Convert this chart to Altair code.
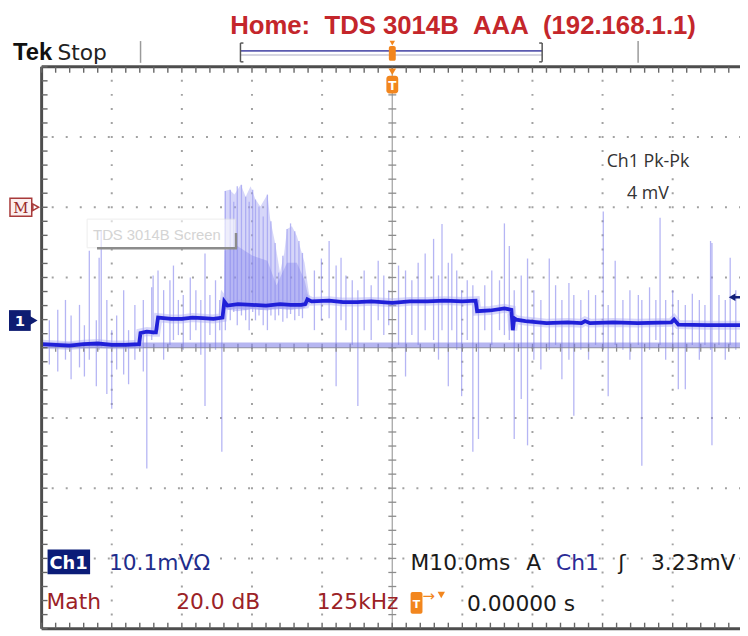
import altair as alt
import pandas as pd

# ---------------- data: time in ms (10 ms/div, trigger at 0), amplitude in divisions ----------------
trace_ms = [-50, -48, -46, -44, -42, -40, -38, -36.1, -35.9, -35.0, -34.0, -33.7, -33.4, -31.5, -30, -28.5, -27, -25.5, -24.2,
            -23.95, -23.5, -22, -20, -18, -16, -14.5, -13, -12.4, -12.1, -11.5, -9, -7, -5, -3, 0, 2.5, 5, 7.5, 10, 11.9,
            12.1, 14, 16, 17.0, 17.2, 17.4, 17.7, 19, 22, 25, 27.0, 27.5, 28.2, 31.5, 35, 39.8, 40.2, 40.8, 45, 49.6]
trace_div = [0.05, 0.04, 0.03, 0.05, 0.06, 0.04, 0.04, 0.05, 0.21, 0.23, 0.22, 0.22, 0.43, 0.41, 0.41, 0.43, 0.42, 0.41, 0.43,
             0.66, 0.60, 0.62, 0.61, 0.60, 0.62, 0.61, 0.61, 0.62, 0.69, 0.66, 0.67, 0.65, 0.65, 0.66, 0.64, 0.66, 0.66, 0.67, 0.66, 0.67,
             0.52, 0.53, 0.56, 0.54, 0.25, 0.42, 0.40, 0.38, 0.35, 0.36, 0.35, 0.38, 0.35, 0.36, 0.35, 0.36, 0.40, 0.33, 0.32, 0.32]

spike_ms = [-48.9, -47.7, -46.6, -45.8, -44.6, -43.9, -43.2, -42.2, -41.8, -41.5, -40.7, -40.0, -39.3, -38.3, -37.6, -36.7,
            -35.5, -35.0, -34.3, -34.1, -33.4, -32.6, -31.7, -31.2, -30.5, -29.8, -28.8, -28.0, -27.3, -26.7, -26.0, -25.2, -24.6, -24.3,
            -23.8, -23.1, -22.6, -22.1, -21.5, -20.9, -20.4, -19.9, -19.5, -19.0, -18.4, -17.8, -17.3, -16.7, -16.2, -15.6, -15.0, -14.5, -13.9, -13.3, -12.8,
            -11.1, -10.1, -9.0, -8.0, -7.3, -6.6, -5.7, -4.9, -4.0, -3.0, -2.0, -1.2, -0.5, 0.9, 1.9, 2.8, 3.7, 4.7, 5.9, 6.6, 7.1, 8.0, 8.5, 9.2, 9.9, 10.7, 11.5, 12.3,
            13.2, 14.2, 15.3, 16.0, 16.7, 17.4, 18.4, 19.3, 20.2, 21.2, 22.4, 23.3, 24.2, 25.2, 25.9, 26.9, 28.0, 29.0, 30.1, 30.8,
            31.8, 32.9, 33.9, 35.1, 35.6, 36.7, 37.6, 38.2, 39.0, 40.0, 40.8, 41.8, 42.8, 43.8, 44.6, 45.4, 45.6, 46.6, 47.5, 48.2, 49.0]
spike_top = [0.39, 0.54, 0.68, 0.46, 0.61, 0.32, 1.38, 0.39, 1.28, 1.66, 0.68, 0.25, 0.46, 0.82, 0.25, 0.61,
             0.68, 0.25, 0.86, 1.03, 1.10, 0.82, 0.96, 1.17, 0.68, 0.75, 1.00, 0.82, 0.68, 1.34, 0.75, 0.96, 0.68, 0.42,
             2.23, 2.25, 2.08, 2.30, 2.32, 2.15, 2.08, 2.25, 2.11, 2.01, 1.87, 2.18, 1.80, 1.49, 1.07, 1.31, 1.69, 1.77, 1.66, 1.52, 1.35,
             1.10, 1.27, 1.52, 1.17, 1.28, 1.03, 0.96, 0.82, 1.10, 0.89, 1.24, 1.03, 0.82, 1.17, 1.10, 0.96, 1.21, 1.34, 1.55, 1.03, 1.76, 1.21, 1.34, 1.10, 0.82, 0.96, 0.89, 0.68,
             0.89, 1.10, 0.96, 1.77, 1.45, 0.82, 1.03, 1.27, 0.82, 0.68, 1.27, 0.89, 0.68, 0.92, 0.75, 0.68, 0.82, 0.75, 1.94, 0.61,
             1.24, 0.68, 0.82, 0.75, 0.68, 0.86, 0.68, 1.85, 0.68, 0.82, 0.68, 0.61, 0.77, 0.68, 0.61, 1.52, 1.49, 0.75, 0.68, 1.28, 0.82]
spike_bot = [-0.24, -0.34, -0.17, -0.45, -0.28, -0.41, -0.17, -0.55, -0.03, 0.0, -0.66, -0.87, -0.31, -0.38, -0.52, -0.17,
             -0.34, -1.72, 0.11, 0.18, 0.25, -0.17, 0.04, 0.11, 0.18, -0.03, 0.11, 0.25, -0.10, -0.83, 0.18, -0.03, 0.25, -1.48,
             0.25, 0.39, 0.51, 0.32, 0.46, 0.39, 0.25, 0.51, 0.39, 0.46, 0.32, 0.25, 0.46, 0.39, 0.46, 0.37, 0.42, 0.48, 0.39, 0.45, 0.42,
             0.25, 0.39, 0.42, -0.55, 0.39, 0.25, 0.04, -0.83, 0.25, 0.11, 0.39, 0.18, 0.32, 0.04, -0.41, 0.18, 0.04, 0.25, 0.11, -0.17, 0.25, -0.55, 0.25, -0.03, -0.69, 0.11, -1.48, -1.30,
             0.25, 0.04, 0.25, 0.18, 0.11, -1.30, -0.73, -1.39, -0.17, -0.31, -0.03, 0.04, -0.45, -0.17, -0.97, -0.03, -0.17, 0.04, -0.03, -0.69,
             0.04, -0.03, -0.17, 0.04, -1.68, -0.03, 0.11, 0.04, -0.17, -0.03, -0.59, -0.59, 0.04, -0.17, 0.04, -0.03, -1.39, 0.04, -0.17, 0.04, -0.03]

burst_ms = [-24.0, -23.9, -23.2, -22.5, -21.6, -20.9, -20.2, -19.5, -18.8, -17.8, -17.4, -16.7, -16.0, -15.4, -15.0, -14.3, -13.6, -12.9, -12.5, -11.9, -11.6]
burst_top = [0.62, 2.23, 2.25, 2.18, 2.32, 2.15, 2.30, 2.11, 2.01, 2.18, 1.83, 1.49, 1.07, 1.35, 1.69, 1.73, 1.59, 1.35, 1.21, 0.79, 0.66]
burst_base = [0.60, 0.55, 0.54, 0.56, 0.55, 0.53, 0.55, 0.56, 0.54, 0.55, 0.56, 0.54, 0.55, 0.56, 0.55, 0.54, 0.56, 0.55, 0.57, 0.62, 0.66]

core_ms = [-24.0, -23.9, -22.1, -19.9, -17.8, -16.5, -15.0, -13.6, -12.5, -11.9, -11.6]
core_top = [0.62, 1.38, 1.45, 1.31, 1.24, 0.89, 1.21, 1.21, 0.96, 0.70, 0.66]
core_base = [0.60, 0.55, 0.52, 0.55, 0.53, 0.56, 0.54, 0.55, 0.57, 0.62, 0.66]

ref_ms = [-50, 49.6]
ref_div = [0.04, 0.04]

grid_ms = [-40, -30, -20, -10, 10, 20, 30, 40]
grid_div = [-3, -2, -1, 1, 2, 3]
minor_ms = list(range(-50, 50, 2))
minor_div = [round(-4 + 0.2 * i, 1) for i in range(41)]

# ---------------- tables ----------------
trace_df = pd.DataFrame({"ms": trace_ms, "v": trace_div})
spike_df = pd.DataFrame({"ms": spike_ms, "top": spike_top, "bot": spike_bot})
burst_df = pd.DataFrame({"ms": burst_ms, "top": burst_top, "base": burst_base})
core_df = pd.DataFrame({"ms": core_ms, "top": core_top, "base": core_base})
ref_df = pd.DataFrame({"ms": ref_ms, "v": ref_div})
gx_df = pd.DataFrame({"ms": grid_ms})
gy_df = pd.DataFrame({"v": grid_div})
mx_df = pd.DataFrame({"ms": minor_ms})
my_df = pd.DataFrame({"v": minor_div})
one = alt.Data(values=[{"k": 0}])

XS = alt.Scale(domain=[-50, 49.6], nice=False, zero=False)
YS = alt.Scale(domain=[-4, 4], nice=False, zero=False)


def X(f):
    return alt.X(f, type="quantitative", scale=XS, axis=None, title=None)


def Y(f):
    return alt.Y(f, type="quantitative", scale=YS, axis=None, title=None)


XD = lambda d: alt.XDatum(d, type="quantitative", scale=XS, axis=None)
YD = lambda d: alt.YDatum(d, type="quantitative", scale=YS, axis=None)

GRID = "#a2a2a2"
FRAME = "#4d4d4d"
layers = []

# dotted graticule
layers.append(alt.Chart(gx_df).mark_rule(color=GRID, strokeWidth=2, strokeDash=[2, 12.2], strokeDashOffset=1).encode(
    x=X("ms")))
layers.append(alt.Chart(gy_df).mark_rule(color=GRID, strokeWidth=2, strokeDash=[2, 12.18], strokeDashOffset=1).encode(
    y=Y("v")))

# noise spikes
layers.append(alt.Chart(spike_df).mark_rule(color="#8888ee", strokeWidth=1.3, opacity=0.62).encode(
    x=X("ms"), y=Y("top"), y2="bot"))

# burst envelope
layers.append(alt.Chart(burst_df).mark_area(color="#a4a4f2", opacity=0.45).encode(
    x=X("ms"), y=Y("top"), y2="base"))
layers.append(alt.Chart(core_df).mark_area(color="#7c7cea", opacity=0.35).encode(
    x=X("ms"), y=Y("top"), y2="base"))

# centre cross of graticule
layers.append(alt.Chart(one).mark_rule(color="#8c8c8c", strokeWidth=1).encode(x=XD(0)))
layers.append(alt.Chart(one).mark_rule(color="#8c8c8c", strokeWidth=1).encode(y=YD(0)))
layers.append(alt.Chart(my_df).mark_rule(color="#8c8c8c", strokeWidth=1.3).encode(
    y=Y("v"), x=alt.value(350.5), x2=alt.value(358.5)))
layers.append(alt.Chart(mx_df).mark_rule(color="#8c8c8c", strokeWidth=1.3).encode(
    x=X("ms"), y=alt.value(280), y2=alt.value(288)))

# light reference band
layers.append(alt.Chart(ref_df).mark_line(color="#7a7ae6", strokeWidth=5, opacity=0.55).encode(
    x=X("ms"), y=Y("v")))

# main trace: soft halo + core
layers.append(alt.Chart(trace_df).mark_line(color="#a9a9f3", strokeWidth=9, opacity=0.45).encode(
    x=X("ms"), y=Y("v")))
layers.append(alt.Chart(trace_df).mark_line(color="#2020d8", strokeWidth=3.8).encode(
    x=X("ms"), y=Y("v")))

# frame: left, top, bottom with inward minor ticks
layers.append(alt.Chart(one).mark_rule(color=FRAME, strokeWidth=3).encode(x=XD(-50)))
layers.append(alt.Chart(one).mark_rule(color=FRAME, strokeWidth=3).encode(y=YD(4)))
layers.append(alt.Chart(one).mark_rule(color=FRAME, strokeWidth=3).encode(y=YD(-4)))
layers.append(alt.Chart(my_df).mark_rule(color="#666666", strokeWidth=1.4).encode(
    y=Y("v"), x=alt.value(0), x2=alt.value(6)))
layers.append(alt.Chart(mx_df).mark_rule(color="#666666", strokeWidth=1.4).encode(
    x=X("ms"), y=alt.value(0), y2=alt.value(6)))
layers.append(alt.Chart(mx_df).mark_rule(color="#666666", strokeWidth=1.4).encode(
    x=X("ms"), y=alt.value(562), y2=alt.value(568)))


# ---------------- annotations (pixel positions relative to the plot area) ----------------
def txt(s, x, y, size, color, font="DejaVu Sans", weight="normal", align="left"):
    return alt.Chart(one).mark_text(fontSize=size, color=color, font=font, fontWeight=weight,
                                    align=align, baseline="alphabetic").encode(
        x=alt.value(x), y=alt.value(y), text=alt.value(s))


def rule(x1, y1, x2, y2, color, w):
    return alt.Chart(one).mark_rule(color=color, strokeWidth=w).encode(
        x=alt.value(x1), y=alt.value(y1), x2=alt.value(x2), y2=alt.value(y2))


def box(x1, y1, x2, y2, fill, stroke=None, sw=1, op=1.0, r=0):
    kw = dict(fill=fill, opacity=op, cornerRadius=r)
    if stroke:
        kw.update(stroke=stroke, strokeWidth=sw)
    return alt.Chart(one).mark_rect(**kw).encode(
        x=alt.value(x1), y=alt.value(y1), x2=alt.value(x2), y2=alt.value(y2))


def tri(shape, x, y, size, color, filled=True):
    return alt.Chart(one).mark_point(shape=shape, filled=filled, size=size, color=color, opacity=1,
                                     strokeWidth=1.5).encode(x=alt.value(x), y=alt.value(y))


ORANGE = "#f2861e"
NAVY = "#0e1c72"
DRED = "#9b2226"
NB = "\u00a0"

ann = [
    txt(f"Home:{NB}{NB}TDS 3014B{NB}{NB}AAA{NB}{NB}(192.168.1.1)", 426, -33, 26, "#c4262b",
        font="Liberation Sans", weight="bold", align="center"),
    txt("Tek", -29, -7, 24, "#111111", font="Liberation Sans", weight="bold"),
    txt("Stop", 16, -7, 22, "#222222"),
    rule(100, -26, 100, -4, "#9a9a9a", 1.5),
    rule(603, -26, 603, -4, "#9a9a9a", 1.5),
    rule(201, -16, 506, -16, "#5b5bb0", 1.8),
    rule(201, -12, 506, -12, "#c9c9d9", 1.5),
    rule(201, -24, 201, -5, "#555555", 1.5),
    rule(506, -24, 506, -5, "#555555", 1.5),
    rule(201, -24, 204, -24, "#555555", 1.5),
    rule(201, -5, 204, -5, "#555555", 1.5),
    rule(503, -24, 506, -24, "#555555", 1.5),
    rule(503, -5, 506, -5, "#555555", 1.5),
    tri("triangle-down", 354.5, -24, 30, ORANGE),
    box(351, -21, 358, -6, ORANGE, r=2),
    tri("triangle-down", 354.5, 5, 60, ORANGE),
    box(348.5, 9, 360.5, 27, ORANGE, r=3),
    txt("T", 354.5, 23, 12, "white", weight="bold", align="center"),
    # M marker
    box(-32, 133, -10, 151, "#fbefef", stroke="#a83a3a", sw=1.5),
    tri("triangle-right", -6, 142, 45, "#a83a3a", filled=False),
    txt("M", -21, 148, 15, "#9a2a2a", font="DejaVu Serif", align="center"),
    # channel 1 marker
    box(-33, 246, -11, 267, NAVY),
    tri("triangle-right", -8, 256.5, 80, NAVY),
    txt("1", -22, 262, 15, "white", weight="bold", align="center"),
    # right arrow
    tri("triangle-left", 698, 233, 60, "#13207a"),
    rule(699, 233, 706, 233, "#13207a", 2.5),
    # ghost screen label
    box(46, 154, 196, 183, "white", stroke="#e3e3e3", sw=1, op=0.6),
    rule(56, 183.5, 197.5, 183.5, "#8c8c8c", 2.5),
    rule(196.5, 168, 196.5, 184, "#8c8c8c", 2.5),
    txt("TDS 3014B Screen", 52, 175, 15, "#d4d4d4", font="Liberation Sans"),
    # measurement
    txt("Ch1 Pk-Pk", 613, 101, 18, "#333333", font="Open Sans", align="center"),
    txt("4 mV", 613, 134, 18, "#333333", font="Open Sans", align="center"),
    # bottom readouts
    box(6, 488, 49, 513, "#0b1c78"),
    txt("Ch1", 8, 508, 18, "white", weight="bold"),
    txt("10.1mV\u03a9", 68, 509, 22, "#1f2d8c"),
    txt("M10.0ms", 373, 509, 22, "#1a1a1a"),
    txt("A", 490, 509, 22, "#1a1a1a"),
    txt("Ch1", 520, 509, 22, "#2b2b96"),
    txt("\u0283", 583, 509, 22, "#1a1a1a"),
    txt("3.23mV", 616, 509, 22, "#1a1a1a"),
    txt("Math", 5, 548, 22, DRED),
    txt("20.0 dB", 136, 548, 22, DRED),
    txt("125kHz", 278, 548, 22, DRED),
    box(373, 531, 385, 553, ORANGE, r=2),
    txt("T", 379, 547, 11, "white", weight="bold", align="center"),
    txt("\u2192", 385, 540, 15, ORANGE),
    tri("triangle-down", 404, 534, 55, ORANGE),
    txt("0.00000 s", 430, 550, 22, "#1a1a1a"),
]

chart = alt.layer(*layers, *ann).properties(
    width=706, height=568,
    padding={"left": 34, "top": 56, "right": 0, "bottom": 4},
    autosize=alt.AutoSizeParams(type="none"),
    background="white",
).configure_view(strokeWidth=0)

chart.save("out.html", embed_options={"renderer": "svg", "actions": False})
